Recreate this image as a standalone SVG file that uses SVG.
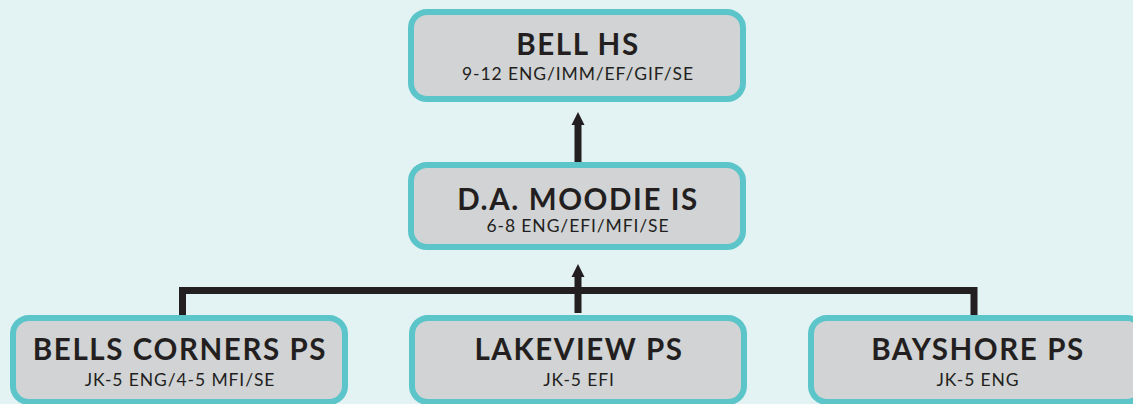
<svg xmlns="http://www.w3.org/2000/svg" width="1133" height="404" viewBox="0 0 1133 404">
<style>
.box{fill:#D1D3D4;stroke:#5BC5CA;stroke-width:6}
.t{font-family:Lato,"Noto Sans",sans-serif;font-weight:700;font-size:29.5px;letter-spacing:1.6px;fill:#231F20;text-anchor:middle}
.s{font-family:Lato,"Noto Sans",sans-serif;font-weight:400;font-size:17.5px;letter-spacing:0.9px;fill:#231F20;text-anchor:middle}
.c{fill:none;stroke:#231F20;stroke-width:7}
</style>
<defs>
<marker id="ah" markerWidth="14" markerHeight="14" viewBox="0 0 14 14" refX="2" refY="7" orient="auto" markerUnits="userSpaceOnUse">
<path d="M0,0.5 L13,7 L0,13.5 Z" fill="#231F20"/>
</marker>
</defs>
<rect width="1133" height="404" fill="#E3F2F2"/>
<g id="connectors">
<path class="c" d="M182.5,316 V290.5 H974 V316"/>
<path class="c" d="M578,313 V275" marker-end="url(#ah)"/>
<path class="c" d="M578,162 V123" marker-end="url(#ah)"/>
</g>
<g id="bell-hs">
<rect class="box" x="411" y="12" width="332" height="87" rx="16"/>
<text class="t" x="578" y="55">BELL HS</text>
<text class="s" x="578" y="80">9-12 ENG/IMM/EF/GIF/SE</text>
</g>
<g id="moodie">
<rect class="box" x="411" y="165" width="332" height="82" rx="16"/>
<text class="t" x="578" y="210">D.A. MOODIE IS</text>
<text class="s" x="578" y="232">6-8 ENG/EFI/MFI/SE</text>
</g>
<g id="bells-corners">
<rect class="box" x="13" y="318" width="332" height="84" rx="16"/>
<text class="t" x="180" y="360">BELLS CORNERS PS</text>
<text class="s" x="180" y="386">JK-5 ENG/4-5 MFI/SE</text>
</g>
<g id="lakeview">
<rect class="box" x="412" y="318" width="332" height="84" rx="16"/>
<text class="t" x="579" y="360">LAKEVIEW PS</text>
<text class="s" x="579" y="386">JK-5 EFI</text>
</g>
<g id="bayshore">
<rect class="box" x="811" y="318" width="332" height="84" rx="16"/>
<text class="t" x="978" y="360">BAYSHORE PS</text>
<text class="s" x="978" y="386">JK-5 ENG</text>
</g>
</svg>
